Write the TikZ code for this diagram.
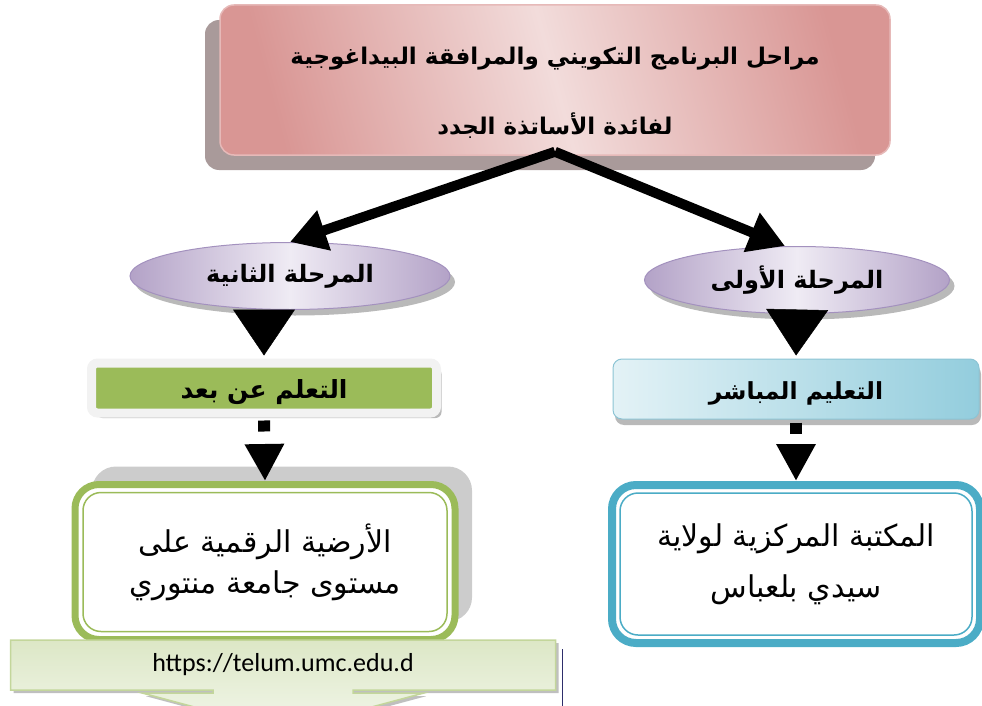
\documentclass[tikz,border=0pt]{standalone}
\usepackage{fontspec}
\setmainfont{Carlito}
\newfontfamily\arabicfont[Script=Arabic]{DejaVu Sans}
\TeXXeTstate=1
\usetikzlibrary{shapes,arrows.meta,shadows}
\definecolor{pinkdark}{HTML}{D99694}
\definecolor{pinklight}{HTML}{F2DCDB}
\definecolor{pinkline}{HTML}{E6B9B8}
\definecolor{pinkshadow}{HTML}{A99A9A}
\definecolor{lilacdark}{HTML}{B3A2C7}
\definecolor{lilaclight}{HTML}{EFEBF4}
\definecolor{lilacline}{HTML}{A391BE}
\definecolor{grassgreen}{HTML}{9BBB59}
\definecolor{cyanlight}{HTML}{E3F2F6}
\definecolor{cyandark}{HTML}{93CDDD}
\definecolor{cyanline}{HTML}{8CC4D4}
\definecolor{teal}{HTML}{4BACC6}
\definecolor{urltop}{HTML}{DCE7C6}
\definecolor{urlbottom}{HTML}{F3F7EB}
\definecolor{urlline}{HTML}{C3D69B}
\tikzstyle{title} = [rectangle, draw=pinkline, line width=1.5pt, rounded corners=14pt,
left color=pinkdark, right color=pinkdark, middle color=pinklight, shading angle=105,
minimum width=670pt, minimum height=150pt, align=center,
drop shadow={shadow xshift=-15pt, shadow yshift=-15pt, fill=pinkshadow, opacity=1},
font=\arabicfont\bfseries\fontsize{23}{70}\selectfont]
\tikzstyle{stage} = [ellipse, draw=lilacline, line width=1pt,
left color=lilacdark, right color=lilacdark, middle color=lilaclight,
minimum height=67pt,
drop shadow={shadow xshift=5pt, shadow yshift=-6pt, fill=gray!55, opacity=1},
font=\arabicfont\bfseries\fontsize{24}{28}\selectfont]
\tikzstyle{remote} = [rectangle, fill=grassgreen, draw=gray!10, line width=9pt,
rounded corners=6pt, minimum width=345pt, minimum height=50pt,
drop shadow={shadow xshift=5pt, shadow yshift=-5pt, fill=gray!55, opacity=1},
font=\arabicfont\bfseries\fontsize{25}{28}\selectfont]
\tikzstyle{direct} = [rectangle, draw=cyanline, line width=1pt, rounded corners=9pt,
left color=cyanlight, right color=cyandark, minimum width=366pt, minimum height=60pt,
drop shadow={shadow xshift=2pt, shadow yshift=-6pt, fill=gray!55, opacity=1},
font=\arabicfont\bfseries\fontsize{23.5}{28}\selectfont]
\tikzstyle{frame} = [rectangle, fill=white, line width=7pt, rounded corners=24pt]
\tikzstyle{inner} = [rectangle, line width=1.5pt, rounded corners=18pt,
font=\arabicfont\fontsize{30}{41}\selectfont, align=center]
\tikzstyle{url} = [arrow box, arrow box arrows={south:40pt}, arrow box tip angle=150,
arrow box shaft width=140pt, arrow box head extend=70pt, arrow box head indent=0pt,
draw=urlline, line width=1.5pt, top color=urltop, bottom color=urlbottom,
minimum width=545pt, minimum height=50pt, inner sep=0pt,
drop shadow={shadow xshift=3pt, shadow yshift=-3pt, fill=gray!50, opacity=1},
font=\fontsize{26}{30}\selectfont]
\tikzstyle{bigline} = [draw, line width=10pt, -{Triangle[length=36pt,width=40pt]}]
\tikzstyle{wedge} = [draw, line width=0.5pt, shorten >=3pt, -{Triangle[length=46pt,width=62pt]}]
\tikzstyle{dashline} = [draw, line width=12pt, dash pattern=on 11pt off 13pt,
shorten <=3pt, -{Triangle[length=37pt,width=37pt]}]

\begin{document}
\begin{tikzpicture}[x=1pt, y=-1pt]
\useasboundingbox (0,0) rectangle (982,706);
% Place nodes
\node [title] (prog) at (555,80)
  {\rule{0pt}{42pt}\beginR مراحل البرنامج التكويني والمرافقة البيداغوجية\endR\\
   \beginR لفائدة الأساتذة الجدد\endR};
\node [stage, minimum width=320pt] (second) at (290,276) {\beginR المرحلة الثانية\endR};
\node [stage, minimum width=305pt] (first) at (797,280) {\beginR المرحلة الأولى\endR};
\node [remote] (distance) at (264,388) {\rule{0pt}{28pt}\beginR التعلم عن بعد\endR};
\node [direct] (onsite) at (796,389) {\rule{0pt}{26pt}\beginR التعليم المباشر\endR};
\node [frame, draw=grassgreen, minimum width=380pt, minimum height=155pt,
  drop shadow={shadow xshift=17pt, shadow yshift=18pt, fill=gray!40, opacity=1}]
  (lms) at (265,562) {};
\node [inner, draw=grassgreen, minimum width=364pt, minimum height=139pt]
  (lmsin) at (lms) {\beginR الأرضية الرقمية على\endR\\ \beginR مستوى جامعة منتوري\endR};
\node [frame, draw=teal, line width=8pt, minimum width=368pt, minimum height=158pt]
  (lib) at (796,564) {};
\node [inner, draw=teal, minimum width=352pt, minimum height=142pt,
  font=\arabicfont\fontsize{30}{51}\selectfont]
  (libin) at (lib) {\beginR المكتبة المركزية لولاية\endR\\ \beginR سيدي بلعباس\endR};
\node [url] (link) at (283,665) {https://telum.umc.edu.d};
% Connect
\path [bigline] ([yshift=4pt]prog.south) -- (second.north);
\path [bigline] ([yshift=4pt]prog.south) -- ([xshift=-12pt]first.north);
\path [wedge] (second.south -| distance.north) -- (distance.north);
\path [wedge] (first.south) -- (onsite.north);
\path [dashline] (distance.south) -- (lms.north);
\path [dashline] (onsite.south) -- (lib.north);
\draw [gray!60!blue!60!black, line width=1pt] ([xshift=6pt,yshift=16pt]link.east) -- ++(0,60);
\end{tikzpicture}
\end{document}
